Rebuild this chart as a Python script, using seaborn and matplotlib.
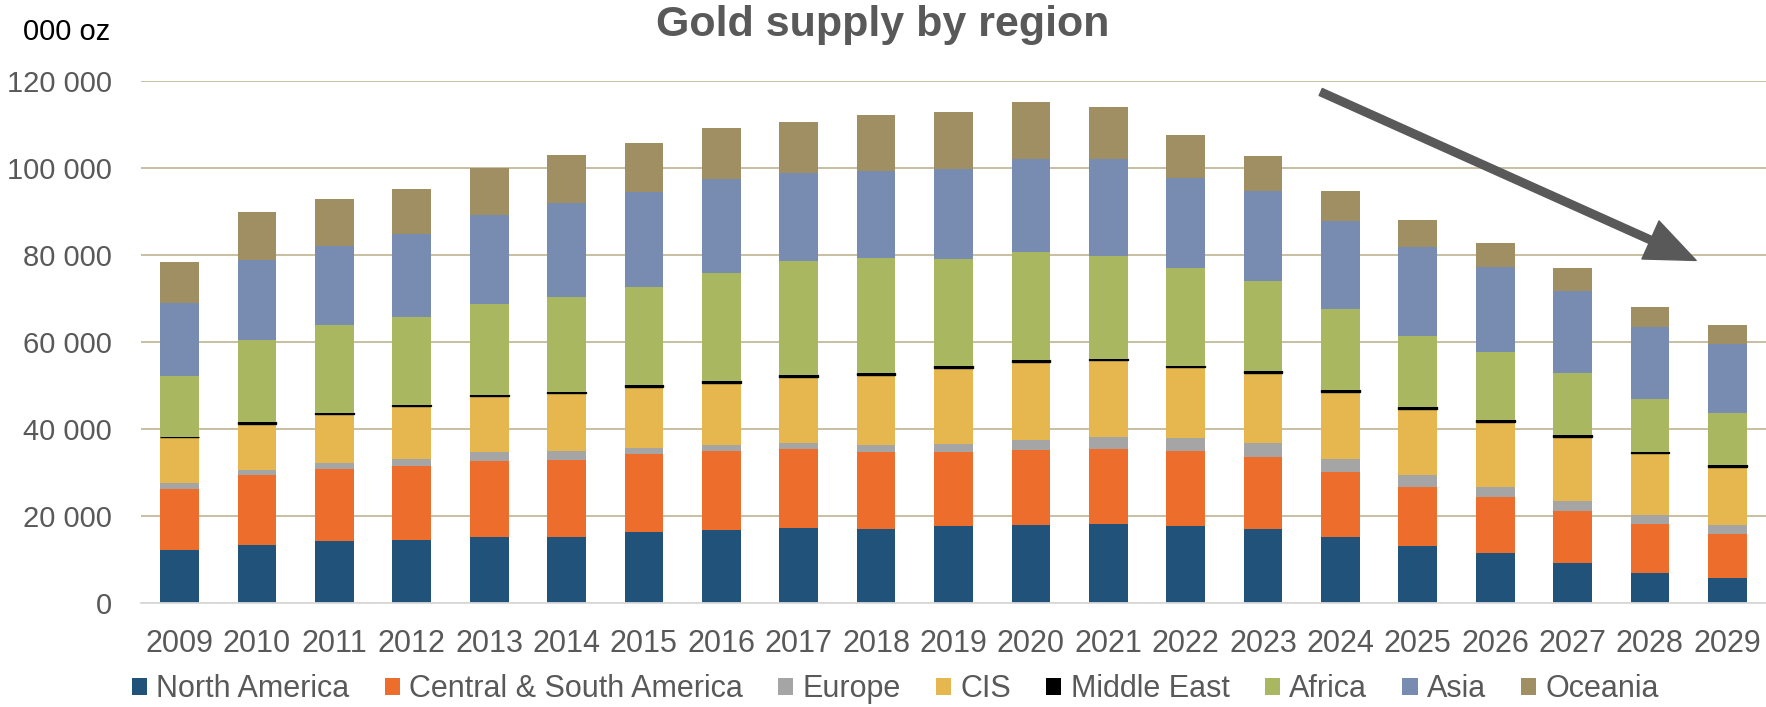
import numpy as np
import pandas as pd
import matplotlib
matplotlib.use("Agg")
import matplotlib.pyplot as plt
from matplotlib.patches import Patch
import seaborn as sns

#DATA (000 oz)
years = ["2009", "2010", "2011", "2012", "2013", "2014", "2015", "2016", "2017", "2018", "2019",
         "2020", "2021", "2022", "2023", "2024", "2025", "2026", "2027", "2028", "2029"]

north_america = [12200, 13200, 14200, 14500, 15100, 15200, 16300, 16700, 17200, 16900, 17700,
                 17900, 18000, 17700, 17000, 15000, 13000, 11400, 9000, 6800, 5600]
central_south_america = [14000, 16100, 16500, 16900, 17500, 17700, 17800, 18100, 18200, 17800, 17000,
                         17100, 17400, 17100, 16400, 15100, 13500, 12900, 12100, 11200, 10200]
europe = [1200, 1200, 1400, 1700, 2000, 1900, 1400, 1500, 1400, 1600, 1900,
          2400, 2800, 3100, 3300, 2900, 2800, 2300, 2300, 2100, 2000]
cis = [10600, 10700, 11300, 12100, 12900, 13400, 14200, 14200, 15100, 16000, 17400,
       17900, 17500, 16200, 16100, 15500, 15300, 14900, 14700, 14200, 13500]
middle_east = [150, 300, 300, 300, 200, 300, 300, 400, 500, 500, 500,
               500, 400, 400, 400, 400, 400, 400, 400, 400, 400]
africa = [14000, 18800, 20100, 20300, 21100, 21900, 22500, 25000, 26300, 26500, 24600,
          24900, 23700, 22400, 20900, 18600, 16300, 15700, 14400, 12200, 11900]
asia = [16700, 18600, 18200, 18900, 20400, 21500, 21900, 21500, 20100, 20100, 20700,
        21400, 22200, 20800, 20600, 20400, 20600, 19600, 18800, 16600, 16000]
oceania = [9600, 11000, 10900, 10400, 10900, 11000, 11300, 11700, 11800, 12800, 13000,
           13000, 12000, 9900, 8000, 6800, 6200, 5600, 5200, 4600, 4300]

regions = ["North America", "Central & South America", "Europe", "CIS",
           "Middle East", "Africa", "Asia", "Oceania"]
colors = ["#21537a", "#ed6d2d", "#a5a5a5", "#e5b74e",
          "#000000", "#a8b760", "#778cb0", "#a08f63"]

df = pd.DataFrame({
    "year": years,
    "North America": north_america,
    "Central & South America": central_south_america,
    "Europe": europe,
    "CIS": cis,
    "Middle East": middle_east,
    "Africa": africa,
    "Asia": asia,
    "Oceania": oceania,
})

#PLOT
sns.set_theme(style="white")
plt.rcParams["font.family"] = ["Liberation Sans", "DejaVu Sans"]

fig = plt.figure(figsize=(17.66, 7.07), dpi=100)
ax = fig.add_axes([0.0798, 0.1477, 0.9202, 0.7377])

# stacked bars, one layer per region
bottom = np.zeros(len(years))
for region, c in zip(regions, colors):
    if region == "Middle East":
        extra = dict(edgecolor="black", linewidth=1.0)
    else:
        extra = dict(linewidth=0)
    sns.barplot(data=df, x="year", y=region, color=c, saturation=1, width=0.5,
                bottom=bottom, errorbar=None, ax=ax, zorder=3, **extra)
    bottom = bottom + df[region].values

ax.set_ylim(0, 120000)
ax.set_xlim(-0.5, len(years) - 0.5)
ax.set_yticks(np.arange(0, 120001, 20000))
ax.set_yticklabels([f"{v:,.0f}".replace(",", " ") for v in np.arange(0, 120001, 20000)])
ax.set_xlabel("")
ax.set_ylabel("")

ax.yaxis.grid(True, color="#c4b99a", linewidth=1.3, zorder=0)
ax.xaxis.grid(False)
for s in ["top", "right", "left"]:
    ax.spines[s].set_visible(False)
ax.spines["bottom"].set_color("#d9d9d9")
ax.spines["bottom"].set_linewidth(1.3)
ax.spines["bottom"].set_zorder(4)

ax.tick_params(axis="y", length=0, pad=21, labelsize=21, labelcolor="#595959")
ax.tick_params(axis="x", length=0, pad=19, labelsize=22, labelcolor="#595959")

fig.text(0.5, 0.9646, "Gold supply by region", ha="center", va="center",
         fontsize=31, fontweight="bold", color="#595959")
fig.text(0.013, 0.955, "000 oz", ha="left", va="center", fontsize=21, color="black")

# trend arrow
ax.annotate("", xy=(0.957, 0.656), xytext=(0.726, 0.979),
            xycoords="axes fraction", textcoords="axes fraction",
            arrowprops=dict(width=5.5, headwidth=30, headlength=36,
                            facecolor="#595959", edgecolor="#595959", shrink=0),
            zorder=6)

handles = [Patch(facecolor=c, edgecolor="none", label=r) for r, c in zip(regions, colors)]
leg = fig.legend(handles=handles, loc="center", bbox_to_anchor=(0.507, 0.025), ncol=8,
                 frameon=False, fontsize=22, handlelength=0.5, handleheight=0.5,
                 handletextpad=0.3, columnspacing=1.15, borderpad=0)
for t in leg.get_texts():
    t.set_color("#595959")

plt.savefig("out.png", dpi=100)
